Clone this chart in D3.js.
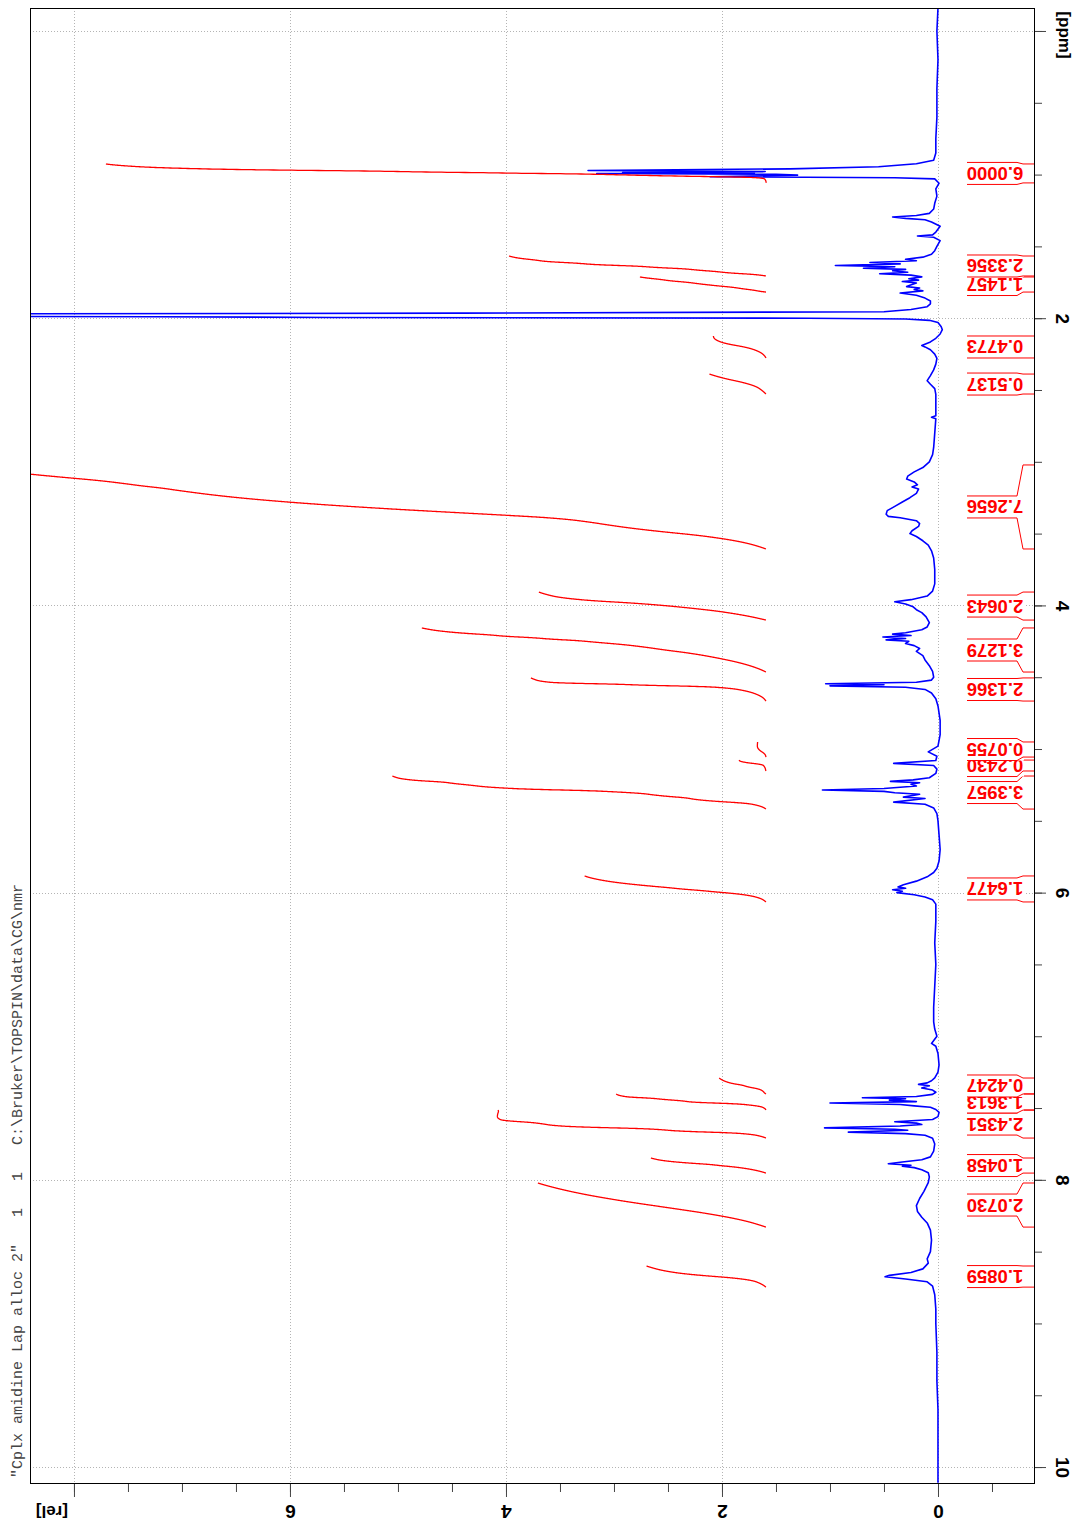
<!DOCTYPE html>
<html><head><meta charset="utf-8">
<script src="https://cdn.jsdelivr.net/npm/d3@7"></script>
<style>body{margin:0;background:#fff}</style>
</head><body>
<svg id="c" width="1077" height="1521" xmlns="http://www.w3.org/2000/svg"></svg>
<script>
// ---- data ----
const specPpm = [-0.16,0.0,0.2,0.4,0.6,0.75,0.85,0.9,0.925,0.945,0.96,0.972,0.979,0.986,0.989,0.992,0.998,1.004,1.015,1.022,1.03,1.06,1.1,1.15,1.2,1.24,1.27,1.285,1.295,1.305,1.315,1.33,1.36,1.40,1.42,1.428,1.436,1.46,1.5,1.53,1.555,1.575,1.59,1.60,1.612,1.622,1.633,1.642,1.652,1.66,1.67,1.68,1.69,1.70,1.712,1.725,1.735,1.745,1.755,1.77,1.78,1.79,1.80,1.81,1.825,1.84,1.86,1.88,1.90,1.92,1.94,1.955,1.965,1.972,1.978,1.984,1.99,1.995,2.0,2.006,2.015,2.03,2.06,2.08,2.11,2.14,2.165,2.19,2.2,2.22,2.25,2.28,2.32,2.36,2.40,2.435,2.46,2.49,2.53,2.6,2.68,2.69,2.70,2.8,2.9,2.95,3.0,3.04,3.07,3.1,3.12,3.14,3.16,3.175,3.19,3.22,3.25,3.28,3.31,3.34,3.365,3.38,3.39,3.41,3.43,3.45,3.48,3.5,3.52,3.55,3.58,3.62,3.67,3.75,3.85,3.9,3.935,3.96,3.975,3.99,4.01,4.03,4.05,4.08,4.12,4.15,4.17,4.19,4.2,4.21,4.22,4.23,4.24,4.25,4.265,4.28,4.3,4.32,4.35,4.38,4.42,4.46,4.5,4.52,4.535,4.545,4.552,4.56,4.57,4.585,4.61,4.65,4.7,4.8,4.9,4.98,5.02,5.05,5.08,5.1,5.115,5.14,5.17,5.2,5.215,5.225,5.235,5.245,5.258,5.275,5.285,5.295,5.305,5.315,5.335,5.345,5.37,5.385,5.41,5.45,5.5,5.6,5.7,5.78,5.83,5.86,5.89,5.92,5.945,5.96,5.97,5.98,5.99,6.0,6.015,6.03,6.05,6.08,6.2,6.35,6.5,6.65,6.8,6.9,6.95,7.0,7.05,7.07,7.12,7.2,7.25,7.29,7.31,7.325,7.335,7.345,7.36,7.375,7.39,7.405,7.42,7.428,7.435,7.445,7.455,7.465,7.475,7.485,7.495,7.51,7.53,7.56,7.58,7.595,7.605,7.615,7.625,7.638,7.648,7.655,7.668,7.678,7.69,7.71,7.75,7.8,7.84,7.86,7.878,7.888,7.898,7.905,7.915,7.93,7.95,7.98,8.02,8.08,8.13,8.18,8.22,8.26,8.3,8.35,8.42,8.5,8.55,8.58,8.62,8.645,8.665,8.675,8.69,8.71,8.74,8.8,8.9,9.0,9.2,9.4,9.6,9.8,10.0,10.11];
const specRel = [0.00,0.01,0.0,0.01,0.01,0.02,0.02,0.04,0.2,0.55,1.37,3.24,1.6,2.92,1.7,3.16,1.5,1.3,2.11,0.4,0.03,-0.01,0.02,0.01,0.03,0.04,0.08,0.2,0.42,0.3,0.12,0.06,-0.02,0.02,0.05,0.19,0.04,-0.02,0.01,0.03,0.06,0.14,0.3,0.2,0.63,0.35,0.95,0.4,0.69,0.3,0.42,0.28,0.54,0.25,0.15,0.27,0.18,0.33,0.2,0.26,0.29,0.17,0.22,0.14,0.35,0.2,0.12,0.07,0.07,0.1,0.25,0.5,4.4,11,25,11,7.25,5.6,1.2,0.3,0.08,0.0,-0.03,-0.04,-0.02,0.02,0.07,0.15,0.12,0.07,0.03,0.01,0.02,0.04,0.07,0.10,0.07,0.03,0.02,0.02,0.02,0.06,0.02,0.03,0.04,0.05,0.08,0.14,0.22,0.28,0.29,0.22,0.19,0.24,0.18,0.2,0.26,0.33,0.4,0.47,0.48,0.46,0.35,0.2,0.17,0.18,0.24,0.26,0.2,0.14,0.09,0.06,0.04,0.03,0.03,0.05,0.1,0.25,0.40,0.3,0.23,0.2,0.15,0.11,0.08,0.1,0.15,0.3,0.42,0.25,0.51,0.3,0.48,0.27,0.3,0.22,0.17,0.2,0.14,0.12,0.08,0.05,0.04,0.06,0.2,1.04,0.5,1.0,0.3,0.12,0.06,0.02,0.0,-0.02,-0.02,0.0,0.09,0.01,0.02,0.41,0.04,0.01,0.02,0.08,0.23,0.44,0.17,0.25,0.2,0.5,1.07,0.5,0.4,0.17,0.32,0.12,0.41,0.12,0.04,0.01,0.0,-0.01,-0.02,-0.01,0.01,0.04,0.1,0.2,0.32,0.37,0.3,0.42,0.33,0.38,0.22,0.12,0.05,0.02,0.02,0.03,0.02,0.03,0.04,0.04,0.03,0.01,0.06,0.02,0.0,-0.01,0.0,0.03,0.06,0.1,0.18,0.08,0.15,0.05,0.02,0.05,0.2,0.7,0.3,0.45,0.2,1.0,0.35,0.22,0.07,0.02,-0.01,0.0,0.05,0.4,0.2,0.15,0.35,1.05,0.4,0.28,0.83,0.3,0.12,0.05,0.03,0.04,0.07,0.15,0.35,0.46,0.25,0.33,0.22,0.15,0.09,0.08,0.09,0.13,0.17,0.2,0.19,0.15,0.1,0.07,0.06,0.07,0.1,0.09,0.14,0.25,0.45,0.49,0.3,0.1,0.05,0.03,0.02,0.02,0.01,0.01,0.0,0.0,0.0,0.0];

const intLabels = ["6.0000","2.3356","1.1457","0.4773","0.5137","7.2656","2.0643","3.1279","2.1366","0.0755","0.2430","3.3957","1.6477","0.4247","1.3613","2.4351","1.0458","2.0730","1.0859"];
const intLo = [0.926,1.567,1.713,2.124,2.389,3.022,3.907,4.157,4.505,4.951,5.077,5.188,5.884,7.291,7.402,7.514,7.848,8.022,8.600];
const intHi = [1.058,1.706,1.818,2.277,2.528,3.607,4.102,4.464,4.666,5.056,5.153,5.418,6.065,7.402,7.514,7.709,7.953,8.329,8.747];

const ppmMajor = [0,2,4,6,8,10];
const ppmTickLabels = ["","2","4","6","8","10"];
const relMajor = [0,2,4,6,8];
const relTickLabels = ["0","2","4","6",""];
const titleText = '"Cplx amidine Lap alloc 2"   1   1   C:\\Bruker\\TOPSPIN\\data\\CG\\nmr';

// ---- layout ----
const L = 30, R = 1034, T = 8, B = 1483;
const svg = d3.select("#c");
const y = d3.scaleLinear().domain([-0.16, 10.111]).range([T, B]);
const x = d3.scaleLinear().domain([8.407, -0.889]).range([L, R]);
const sans = "'Liberation Sans', Arial, Helvetica, sans-serif";

svg.append("defs").append("clipPath").attr("id","plotclip")
  .append("rect").attr("x",L).attr("y",T).attr("width",R-L).attr("height",B-T);

// grid
const grid = svg.append("g").attr("stroke","#b4b4b4").attr("stroke-width",1).attr("stroke-dasharray","1,2");
grid.selectAll("line.h").data(ppmMajor).join("line").attr("class","h")
  .attr("x1",L).attr("x2",R).attr("y1",d=>Math.round(y(d))+0.5).attr("y2",d=>Math.round(y(d))+0.5);
grid.selectAll("line.v").data(relMajor).join("line").attr("class","v")
  .attr("y1",T).attr("y2",B).attr("x1",d=>Math.round(x(d))+0.5).attr("x2",d=>Math.round(x(d))+0.5);

// spectrum
const plot = svg.append("g").attr("clip-path","url(#plotclip)");
const specData = specPpm.map((p,i)=>[p, specRel[i]]);
plot.append("path").datum(specData)
  .attr("fill","none").attr("stroke","#0000ff").attr("stroke-width",1.6).attr("stroke-linejoin","round")
  .attr("d", d3.line().x(d=>x(d[1])).y(d=>y(d[0])));

// integrals (derived from the spectrum trace)
function specAt(p){
  const i = d3.bisectLeft(specPpm, p);
  if (i <= 0) return specRel[0];
  if (i >= specPpm.length) return specRel[specRel.length-1];
  const p0 = specPpm[i-1], p1 = specPpm[i];
  return specRel[i-1] + (p-p0)/(p1-p0)*(specRel[i]-specRel[i-1]);
}
const relStart = 1.593, kInt = 110/108;
intLabels.forEach((lab,i)=>{
  const lo = intLo[i], hi = intHi[i], val = +lab;
  const n = Math.max(40, Math.round((hi-lo)/0.0005));
  const pts = [[hi,0]]; let cum = 0, prev = specAt(hi);
  for (let j=1;j<=n;j++){
    const p = hi-(hi-lo)*j/n, v = specAt(p);
    cum += (prev+v)/2*(hi-lo)/n; prev = v; pts.push([p,cum]);
  }
  const total = cum;
  pts.forEach(d=>{ d[1] = relStart + d[1]/total*val*kInt; });
  plot.append("path").datum(pts).attr("fill","none").attr("stroke","#ff0000").attr("stroke-width",1.3)
    .attr("d", d3.line().x(d=>x(d[1])).y(d=>y(d[0])));
});

// integral labels, drawn from high ppm to low ppm
const order = d3.range(intLabels.length).sort((a,b)=>intHi[b]-intHi[a]);
const labG = svg.append("g");
order.forEach(i=>{
  const yl = y(intLo[i]), yh = y(intHi[i]), cy = (yl+yh)/2, h = 11;
  const g = labG.append("g");
  g.append("rect").attr("x",966).attr("y",cy-h).attr("width",58).attr("height",2*h).attr("fill","#fff");
  const ln = d3.line();
  g.append("path").attr("fill","none").attr("stroke","#ff0000").attr("stroke-width",1)
    .attr("d", ln([[967,cy-h],[1017,cy-h],[1023,yl],[R,yl]]));
  g.append("path").attr("fill","none").attr("stroke","#ff0000").attr("stroke-width",1)
    .attr("d", ln([[967,cy+h],[1017,cy+h],[1023,yh],[R,yh]]));
  g.append("text").text(intLabels[i])
    .attr("transform",`translate(995,${cy}) rotate(180)`)
    .attr("text-anchor","middle").attr("dominant-baseline","central")
    .attr("font-family",sans).attr("font-weight","bold").attr("font-size","18.5px").attr("fill","#ff0000");
});

// ppm axis (right)
const ppmMinorAxis = d3.axisRight(y).tickValues(d3.range(0,10.01,0.5)).tickSize(8).tickFormat("");
const gpm = svg.append("g").attr("transform",`translate(${R},0)`).call(ppmMinorAxis);
const ppmAxis = d3.axisRight(y).tickValues(ppmMajor).tickSize(12).tickFormat((d,i)=>ppmTickLabels[i]);
const gp = svg.append("g").attr("transform",`translate(${R},0)`).call(ppmAxis);
[gpm,gp].forEach(g=>{ g.select(".domain").remove(); g.selectAll("line").attr("stroke","#444"); });
gp.selectAll("text").attr("x",null).attr("dy",null)
  .attr("transform","translate(28,0) rotate(90)").attr("text-anchor","middle").attr("dominant-baseline","central")
  .attr("font-family",sans).attr("font-weight","bold").attr("font-size","19px").attr("fill","#000");
svg.append("text").text("[ppm]").attr("transform",`translate(1064,${y(0)+4}) rotate(90)`)
  .attr("text-anchor","middle").attr("dominant-baseline","central")
  .attr("font-family",sans).attr("font-weight","bold").attr("font-size","17px");

// rel axis (bottom)
const relMinorAxis = d3.axisBottom(x).tickValues(d3.range(-0.5,8.01,0.5)).tickSize(9).tickFormat("");
const grm = svg.append("g").attr("transform",`translate(0,${B})`).call(relMinorAxis);
const relAxis = d3.axisBottom(x).tickValues(relMajor).tickSize(14).tickFormat((d,i)=>relTickLabels[i]);
const gr = svg.append("g").attr("transform",`translate(0,${B})`).call(relAxis);
[grm,gr].forEach(g=>{ g.select(".domain").remove(); g.selectAll("line").attr("stroke","#444"); });
gr.selectAll("text").attr("y",null).attr("dy",null)
  .attr("transform","translate(0,28) rotate(180)").attr("text-anchor","middle").attr("dominant-baseline","central")
  .attr("font-family",sans).attr("font-weight","bold").attr("font-size","19px").attr("fill","#000");
svg.append("text").text("[rel]").attr("transform",`translate(${x(8)-22},${B+28}) rotate(180)`)
  .attr("text-anchor","middle").attr("dominant-baseline","central")
  .attr("font-family",sans).attr("font-weight","bold").attr("font-size","17px");

// frame
svg.append("rect").attr("x",L+0.5).attr("y",T+0.5).attr("width",R-L).attr("height",B-T)
  .attr("fill","none").attr("stroke","#000").attr("stroke-width",1);

// title
svg.append("text").text(titleText)
  .attr("transform",`translate(18,${B-5}) rotate(-90)`)
  .attr("text-anchor","start").attr("dominant-baseline","central")
  .attr("xml:space","preserve").style("white-space","pre")
  .attr("font-family","'Liberation Mono', 'Courier New', monospace").attr("font-size","15px").attr("fill","#444");
</script>
</body></html>
